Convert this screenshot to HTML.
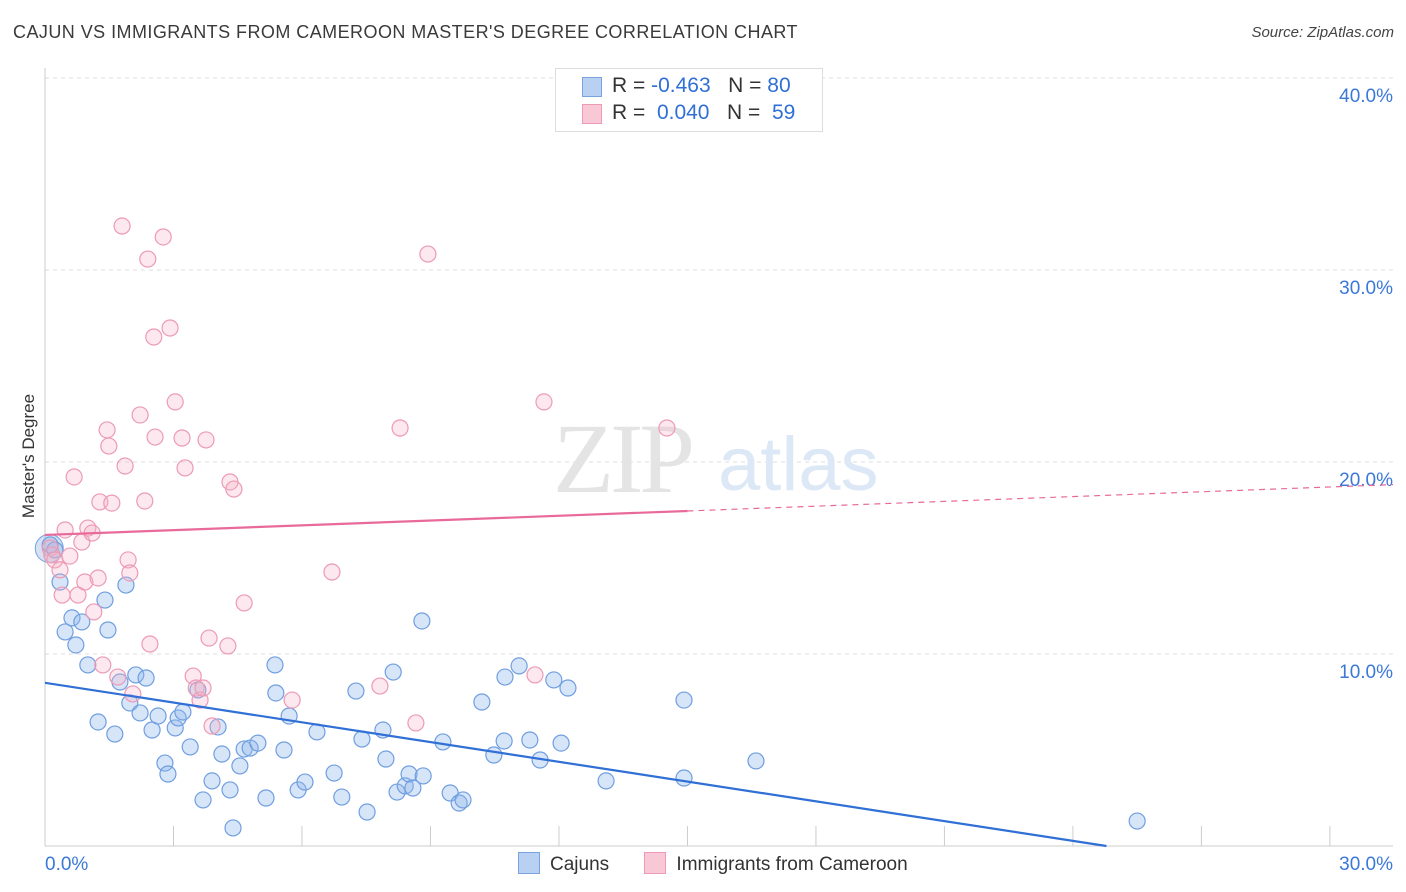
<!DOCTYPE html>
<html><head><meta charset="utf-8"><style>
body{margin:0;background:#fff;font-family:"Liberation Sans",sans-serif;}
#wrap{position:relative;width:1406px;height:892px;overflow:hidden;}
.t{position:absolute;white-space:nowrap;}
</style></head><body><div id="wrap">
<div class="t" style="left:13px;top:22px;font-size:18px;color:#3a3a3a;letter-spacing:0.45px;">CAJUN VS IMMIGRANTS FROM CAMEROON MASTER'S DEGREE CORRELATION CHART</div>
<div class="t" style="right:12px;top:24px;font-size:15px;color:#444;font-style:italic;">Source: ZipAtlas.com</div>
<svg id="svg" width="1406" height="892" style="position:absolute;left:0;top:0"></svg>
</div>
<script>
const xTicks=[0,30];
const yTicks=[10,20,30,40];
const cajunX=[0.12,0.23,0.35,0.47,0.63,0.72,0.86,1.00,1.24,1.40,1.47,1.63,1.75,1.89,1.98,2.12,2.22,2.36,2.50,2.64,2.80,2.87,3.04,3.11,3.22,3.39,3.57,3.69,3.90,4.04,4.13,4.32,4.39,4.55,4.65,4.79,4.97,5.16,5.37,5.39,5.58,5.70,5.91,6.07,6.35,6.75,6.93,7.26,7.40,7.52,7.89,7.96,8.13,8.22,8.41,8.50,8.59,8.83,8.80,9.29,9.46,9.67,9.76,10.20,10.48,10.72,10.74,11.07,11.32,11.56,11.88,12.05,12.21,13.10,14.92,14.92,16.60,25.50];
const cajunY=[15.68,15.42,13.75,11.15,11.88,10.47,11.67,9.43,6.46,12.81,11.25,5.83,8.54,13.59,7.45,8.91,6.93,8.75,6.04,6.77,4.32,3.75,6.15,6.67,6.98,5.16,8.13,2.40,3.39,6.20,4.79,2.92,0.94,4.17,5.05,5.10,5.36,2.50,9.43,7.97,5.00,6.77,2.92,3.33,5.94,3.80,2.55,8.07,5.57,1.77,6.04,4.53,9.06,2.81,3.13,3.75,3.02,3.65,11.72,5.42,2.76,2.24,2.40,7.50,4.74,5.47,8.80,9.38,5.52,4.48,8.65,5.36,8.23,3.39,3.54,7.60,4.43,1.30];
const camX=[0.12,0.16,0.23,0.35,0.40,0.47,0.58,0.68,0.77,0.86,0.93,1.00,1.10,1.14,1.24,1.28,1.35,1.45,1.49,1.56,1.70,1.80,1.87,1.94,1.98,2.05,2.22,2.33,2.40,2.45,2.54,2.57,2.76,2.92,3.04,3.20,3.27,3.46,3.53,3.62,3.69,3.76,3.83,3.90,4.27,4.32,4.41,4.65,5.77,6.70,7.82,8.29,8.66,8.94,11.44,11.65,14.52];
const camY=[15.52,15.16,14.90,14.38,13.07,16.46,15.10,19.22,13.07,15.83,13.75,16.56,16.30,12.19,13.96,17.92,9.43,21.67,20.83,17.86,8.80,32.29,19.79,14.90,14.22,7.92,22.45,17.97,30.57,10.52,26.51,21.30,31.72,26.98,23.13,21.25,19.69,8.85,8.23,7.60,8.23,21.15,10.83,6.25,10.42,18.96,18.59,12.66,7.60,14.27,8.33,21.77,6.41,30.83,8.91,23.13,21.77];
const cajunTrend=[8.5,-0.343];
const camTrend=[16.2,0.0833];
const X=v=>45+v*42.83, Y=v=>846-v*19.2;
const svg=document.getElementById('svg');const NS='http://www.w3.org/2000/svg';
function mk(t,a){const e=document.createElementNS(NS,t);for(const k in a)e.setAttribute(k,a[k]);svg.appendChild(e);return e;}
for(const v of yTicks){const g=mk('line',{x1:45,x2:1393,y1:Y(v),y2:Y(v),stroke:'#ddd','stroke-dasharray':'4,4'});


const t=mk('text',{x:1393,y:Y(v)+24,'text-anchor':'end','font-size':19,fill:'#3b78d8'});t.textContent=v.toFixed(1)+'%';

}
mk('line',{x1:45,x2:45,y1:68,y2:846,stroke:'#ccc'});
mk('line',{x1:45,x2:1393,y1:846,y2:846,stroke:'#ccc'});
for(let i=1;i<=10;i++){mk('line',{x1:X(i*3),x2:X(i*3),y1:826,y2:846,stroke:'#ccc'});}
for(const v of xTicks){const t=mk('text',{x:v?1393:45,y:870,'text-anchor':v?'end':'start','font-size':19,fill:'#3b78d8'});t.textContent=v.toFixed(1)+'%';

}
const yl=mk('text',{x:34,y:456,transform:'rotate(-90 34 456)','text-anchor':'middle','font-size':17,fill:'#333'});yl.textContent="Master's Degree";


const w1=mk('text',{x:553,y:492,'font-size':100,fill:'#e4e4e4','font-family':'Liberation Serif','letter-spacing':'-4'});w1.textContent='ZIP';


const w2=mk('text',{x:718,y:490,'font-size':76,fill:'#dce8f6'});w2.textContent='atlas';


const big=mk('circle',{cx:X(0.1),cy:Y(15.5),r:14,fill:'rgba(120,160,220,0.3)',stroke:'#7aa3dd'});


cajunX.forEach((x,i)=>{const c=mk('circle',{cx:X(x),cy:Y(cajunY[i]),r:8,fill:'rgba(140,180,235,0.35)',stroke:'#6f9ee0','stroke-width':1.2});

});
camX.forEach((x,i)=>{const c=mk('circle',{cx:X(x),cy:Y(camY[i]),r:8,fill:'rgba(245,180,200,0.3)',stroke:'#ec9ab5','stroke-width':1.2});

});
const bt=mk('line',{x1:X(0),y1:Y(cajunTrend[0]),x2:X(-cajunTrend[0]/cajunTrend[1]),y2:Y(0),stroke:'#2f6fd6','stroke-width':2.2});


const pt=mk('line',{x1:X(0),y1:Y(camTrend[0]),x2:X(15),y2:Y(camTrend[0]+camTrend[1]*15),stroke:'#e8699a','stroke-width':2.2});


const pd=mk('line',{x1:X(15),y1:Y(camTrend[0]+camTrend[1]*15),x2:1393,y2:Y(camTrend[0]+camTrend[1]*(1348/42.83)),stroke:'#e8699a','stroke-width':1.2,'stroke-dasharray':'6,5'});


</script>
<div class="t" style="left:555px;top:68px;width:266px;height:62px;border:1px solid #ddd;background:#fff;font-size:21px;">
<div style="position:absolute;left:26px;top:8px;width:18px;height:18px;background:#b8d0f2;border:1px solid #7aa3dd;"></div>
<div style="position:absolute;left:56px;top:5px;color:#333;">R = <span style="color:#2f6fd6">-0.463</span>&nbsp;&nbsp;&nbsp;N = <span style="color:#2f6fd6">80</span></div>
<div style="position:absolute;left:26px;top:35px;width:18px;height:18px;background:#f8c8d7;border:1px solid #ec9ab5;"></div>
<div style="position:absolute;left:56px;top:32px;color:#333;">R =&nbsp;&nbsp;<span style="color:#2f6fd6">0.040</span>&nbsp;&nbsp;&nbsp;N =&nbsp;&nbsp;<span style="color:#2f6fd6">59</span></div>
</div>
<div class="t" style="left:518px;top:852px;font-size:19px;color:#333;">
<span style="display:inline-block;width:20px;height:20px;background:#b8d0f2;border:1px solid #7aa3dd;vertical-align:-4px;margin-right:10px;"></span>Cajuns
<span style="display:inline-block;width:20px;height:20px;background:#f8c8d7;border:1px solid #ec9ab5;vertical-align:-4px;margin:0 10px 0 30px;"></span>Immigrants from Cameroon</div>
</body></html>
